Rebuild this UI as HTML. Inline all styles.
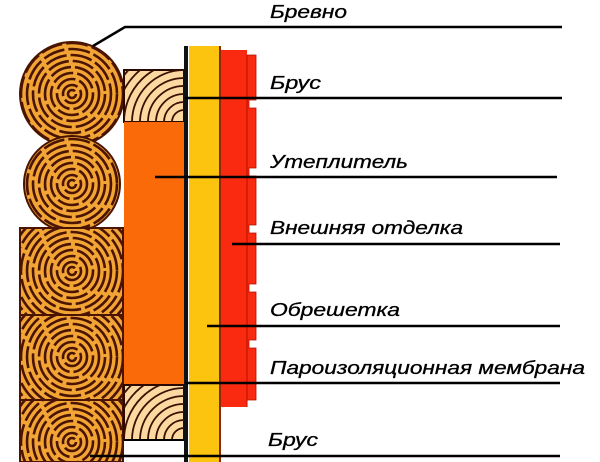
<!DOCTYPE html>
<html><head><meta charset="utf-8"><style>
html,body{margin:0;padding:0;background:#fff;width:600px;height:462px;overflow:hidden}
svg{display:block;overflow:hidden}
text{font-family:"Liberation Sans",sans-serif;font-style:italic;font-size:18px;fill:#000;stroke:#000;stroke-width:0.3}
</style></head><body>
<svg width="600" height="462" viewBox="0 0 600 462" xmlns="http://www.w3.org/2000/svg">
<defs>
<g id="rg" fill="none" stroke="#4a1400" stroke-width="2.6" stroke-dasharray="22 4">
<circle r="4"/><circle r="9"/><circle r="15"/><circle r="21"/><circle r="27"/><circle r="33"/><circle r="39"/><circle r="45"/><circle r="51"/><circle r="57"/><circle r="63"/><circle r="69"/><circle r="75"/>
</g>
<g id="rb" fill="none" stroke="#3a1000" stroke-width="1.8">
<circle r="12"/><circle r="20"/><circle r="28"/><circle r="36"/><circle r="44"/><circle r="52"/><circle r="60"/><circle r="68"/><circle r="76"/><circle r="84"/>
</g>
<clipPath id="c1"><circle cx="72" cy="94" r="52"/></clipPath>
<clipPath id="c2"><circle cx="72" cy="184" r="48"/></clipPath>
<clipPath id="s1"><rect x="20" y="228" width="103" height="87"/></clipPath>
<clipPath id="s2"><rect x="20" y="315" width="103" height="85"/></clipPath>
<clipPath id="s3"><rect x="20" y="400" width="103" height="62"/></clipPath>
<clipPath id="b1"><rect x="124" y="70" width="60" height="52"/></clipPath>
<clipPath id="b2"><rect x="124" y="385" width="60" height="55"/></clipPath>
</defs>
<circle cx="72" cy="94" r="52" fill="#f2a535" stroke="#4a1400" stroke-width="2"/>
<g clip-path="url(#c1)"><use href="#rg" x="72" y="94"/></g>
<circle cx="72" cy="184" r="48" fill="#f2a535" stroke="#4a1400" stroke-width="2"/>
<g clip-path="url(#c2)"><use href="#rg" x="72" y="184"/></g>
<rect x="20" y="228" width="103" height="234" fill="#f2a535" stroke="#4a1400" stroke-width="2"/>
<g clip-path="url(#s1)"><use href="#rg" x="72" y="271"/></g>
<g clip-path="url(#s2)"><use href="#rg" x="72" y="357"/></g>
<g clip-path="url(#s3)"><use href="#rg" x="72" y="442"/></g>
<line x1="20" y1="315" x2="123" y2="315" stroke="#4a1400" stroke-width="2"/>
<line x1="20" y1="400" x2="123" y2="400" stroke="#4a1400" stroke-width="2"/>
<rect x="124" y="70" width="60" height="52" fill="#fbd9a0" stroke="#2a0a00" stroke-width="2"/>
<g clip-path="url(#b1)"><use href="#rb" x="184" y="122"/></g>
<rect x="124" y="122" width="60" height="263" fill="#fb6a08"/>
<rect x="124" y="385" width="60" height="55" fill="#fbd9a0" stroke="#2a0a00" stroke-width="2"/>
<g clip-path="url(#b2)"><use href="#rb" x="184" y="440"/></g>
<line x1="124" y1="440" x2="184" y2="440" stroke="#000" stroke-width="2"/>
<rect x="184" y="46" width="4" height="416" fill="#111"/>
<rect x="189" y="46" width="30" height="416" fill="#fcc30f"/>
<rect x="219" y="46" width="2" height="416" fill="#8a2a00"/>
<rect x="221" y="50" width="26" height="357" fill="#fa2a10"/>
<path d="M247 55 H256 V100 H249 V108 H256 V168 H249 V176 H256 V225 H249 V233 H256 V284 H249 V292 H256 V340 H249 V348 H256 V400 H247 Z" fill="#fa2a10" stroke="#b01000" stroke-width="0.8"/>
<line x1="247" y1="55" x2="247" y2="407" stroke="#b01000" stroke-width="1"/>
<g stroke="#000" stroke-width="2.5" fill="none">
<polyline points="93,46 125,27 562,27"/>
<line x1="185" y1="98" x2="562" y2="98"/>
<line x1="155" y1="177" x2="557" y2="177"/>
<line x1="232" y1="244" x2="560" y2="244"/>
<line x1="207" y1="326" x2="560" y2="326"/>
<line x1="185" y1="383" x2="560" y2="383"/>
<line x1="90" y1="456" x2="560" y2="456"/>
</g>
<text x="270" y="18" textLength="77" lengthAdjust="spacingAndGlyphs">Бревно</text>
<text x="270" y="89" textLength="51" lengthAdjust="spacingAndGlyphs">Брус</text>
<text x="270" y="168" textLength="138" lengthAdjust="spacingAndGlyphs">Утеплитель</text>
<text x="270" y="234" textLength="193" lengthAdjust="spacingAndGlyphs">Внешняя отделка</text>
<text x="270" y="316" textLength="130" lengthAdjust="spacingAndGlyphs">Обрешетка</text>
<text x="270" y="374" textLength="315" lengthAdjust="spacingAndGlyphs">Пароизоляционная мембрана</text>
<text x="268" y="446" textLength="50" lengthAdjust="spacingAndGlyphs">Брус</text>
</svg>
</body></html>
